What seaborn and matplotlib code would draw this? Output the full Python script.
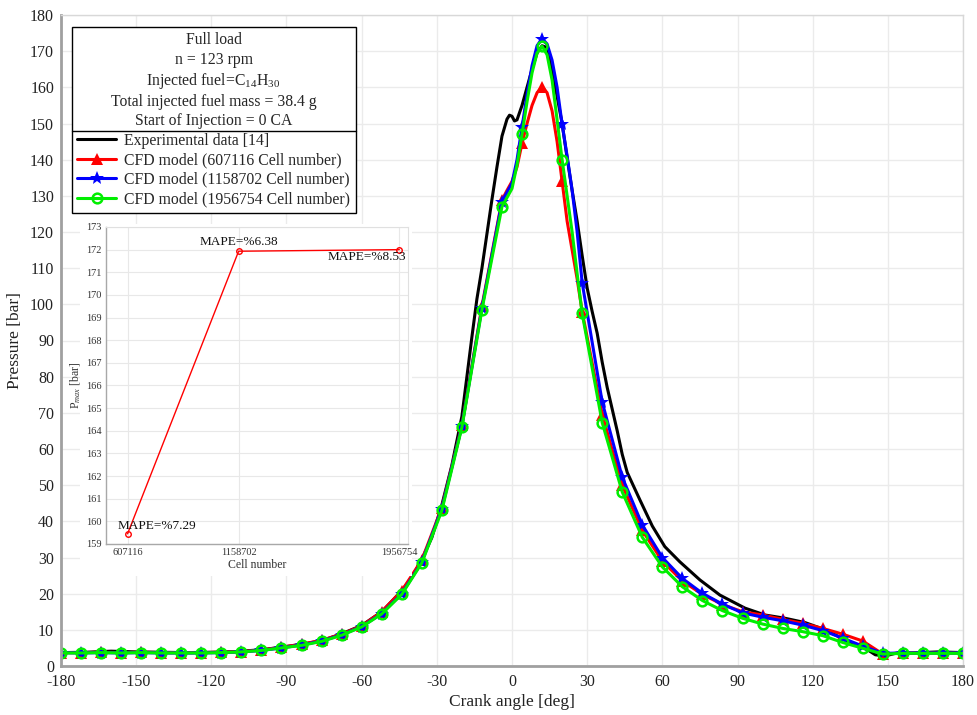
import matplotlib
matplotlib.use("Agg")
import matplotlib.pyplot as plt
import seaborn as sns
import numpy as np
from matplotlib.lines import Line2D
from matplotlib.patches import Rectangle

# ---------------- data ----------------
exp_angle = [-180,-170,-160,-150,-140,-130,-120,-110,-100,-92,-84,-76,-68,-60,-52,-44,-40,-36,-32,
             -28,-24,-20,-16,-14,-12,-10,-8,-6,-4,-2,-1,0,1,2,4,6,8,10,12,14,16,18,20,22,24,26,28,30,32,
             34,36,38,40,42,44,46,48,51,56,61,67,75,83,93,101,109,117,125,133,141,145,149,153,160,170,180]
exp_p = [3.7,3.8,4.1,3.9,3.8,3.7,3.8,4.0,4.5,5.2,6.0,7.0,8.9,11.2,15.0,20.8,24.5,29.5,35.5,
         44.5,55.5,69.0,91.0,101.5,110.0,119.5,129.0,138.0,146.5,151.2,152.3,152.0,150.7,151.0,155.0,160.0,165.0,169.5,171.5,
         171.0,165.0,157.5,150.0,140.5,131.5,123.0,113.5,104.5,98.0,
         92.0,84.0,77.0,71.0,65.0,58.5,53.5,50.5,46.0,38.7,33.0,28.8,23.8,19.6,16.0,14.1,13.2,12.0,10.0,7.2,
         4.9,3.1,2.8,3.5,3.6,3.9,3.7]

cfd_angle = [-180,-172,-164,-156,-148,-140,-132,-124,-116,-108,-100,-92,-84,-76,-68,-60,-52,-44,-36,-28,-20,-12,
             -4,-2,0,2,4,6,8,10,12,14,16,18,20,22,24,26,28,
             36,44,52,60,68,76,84,92,100,108,116,124,132,140,148,156,164,172,180]
cfd_607116 = [3.7,3.7,3.8,3.7,3.8,3.7,3.7,3.7,3.8,4.0,4.4,5.2,6.0,7.1,8.8,11.1,15.0,20.8,29.3,43.8,66.5,99.5,
              128.8,131.5,134.0,138.0,144.5,150.0,155.0,158.5,160.2,158.5,153.5,145.0,134.0,123.0,115.0,107.0,98.0,
              69.5,50.0,37.5,29.0,23.5,19.8,17.0,15.0,14.1,12.9,11.8,10.4,8.8,6.9,3.3,3.6,3.6,3.6,3.6]
cfd_1158702 = [3.7,3.6,3.7,3.6,3.7,3.6,3.6,3.6,3.7,3.9,4.3,5.0,5.8,6.9,8.6,10.9,14.5,20.0,28.7,43.5,66.3,99.0,
               128.4,131.0,133.5,140.0,149.0,158.0,166.0,171.5,173.5,172.0,167.5,160.0,149.8,141.0,131.5,120.0,106.0,
               73.0,52.2,39.0,30.0,24.2,20.1,17.1,14.7,13.5,12.5,11.3,9.8,7.7,5.5,3.5,3.6,3.6,3.6,3.6]
cfd_1956754 = [3.6,3.6,3.7,3.6,3.7,3.6,3.6,3.6,3.7,3.9,4.3,5.0,5.7,6.8,8.5,10.8,14.4,19.8,28.5,43.0,66.0,98.5,
               127.0,129.5,132.0,138.5,147.0,156.0,164.0,169.5,171.4,169.0,162.0,151.0,140.0,130.0,120.0,108.5,97.5,
               67.3,48.1,35.6,27.4,21.9,18.1,15.3,13.2,11.6,10.4,9.5,8.4,6.5,4.9,3.3,3.5,3.5,3.5,3.5]

series_labels = ["Experimental data [14]",
                 "CFD model (607116 Cell number)",
                 "CFD model (1158702 Cell number)",
                 "CFD model (1956754 Cell number)"]

info_lines = ["Full load",
              "n = 123 rpm",
              "Injected fuel=C$_{14}$H$_{30}$",
              "Total injected fuel mass = 38.4 g",
              "Start of Injection = 0 CA"]

inset_cells = [607116, 1158702, 1956754]
inset_pmax = [159.45, 171.93, 172.0]
inset_mape = ["MAPE=%7.29", "MAPE=%6.38", "MAPE=%8.53"]

x_ticks = list(range(-180, 181, 30))
y_ticks = list(range(0, 181, 10))
inset_yticks = list(range(159, 174))

# ---------------- style ----------------
sns.set_theme(style="whitegrid")
plt.rcParams["font.family"] = ["Liberation Serif", "DejaVu Serif"]
plt.rcParams["mathtext.fontset"] = "custom"
plt.rcParams["mathtext.rm"] = "Liberation Serif"
plt.rcParams["mathtext.it"] = "Liberation Serif:italic"
plt.rcParams["mathtext.bf"] = "Liberation Serif:bold"
plt.rcParams["axes.unicode_minus"] = False

fig = plt.figure(figsize=(9.78, 7.15), dpi=100)
fig.patch.set_facecolor("white")
ax = fig.add_axes([61/978, 1-666/715, 902/978, 651/715])
ax.set_zorder(0)
ax.set_facecolor("white")

mask = [((a + 180) % 8 == 0) for a in cfd_angle]

sns.lineplot(x=exp_angle, y=exp_p, ax=ax, color="black", lw=2.2, label=series_labels[0],
             estimator=None, sort=False)
sns.lineplot(x=cfd_angle, y=cfd_607116, ax=ax, color="red", lw=2.2, marker="^", markersize=8,
             markeredgewidth=0, markevery=mask, label=series_labels[1], estimator=None, sort=False)
sns.lineplot(x=cfd_angle, y=cfd_1158702, ax=ax, color="blue", lw=2.2, marker="*", markersize=10,
             markeredgewidth=0, markevery=mask, label=series_labels[2], estimator=None, sort=False)
sns.lineplot(x=cfd_angle, y=cfd_1956754, ax=ax, color="#00ee00", lw=2.2, marker="o", markersize=7,
             markerfacecolor="none", markeredgecolor="#00ee00", markeredgewidth=1.8, markevery=mask,
             label=series_labels[3], estimator=None, sort=False)

ax.set_xlim(-180, 180)
ax.set_ylim(0, 180)
ax.set_xticks(x_ticks)
ax.set_yticks(y_ticks)
ax.tick_params(axis="both", length=0, labelsize=11.5, colors="#222222")
ax.tick_params(axis="x", pad=6)
ax.tick_params(axis="y", pad=5)
ax.grid(True, color="#ebebeb", lw=1)
for s in ["top", "right"]:
    ax.spines[s].set_color("#d8d8d8")
    ax.spines[s].set_linewidth(1)
for s in ["left", "bottom"]:
    ax.spines[s].set_color("#a0a0a0")
    ax.spines[s].set_linewidth(2)
ax.set_xlabel("Crank angle [deg]", fontsize=12.5, labelpad=3, color="#222222")
ax.set_ylabel("Pressure [bar]", fontsize=12.5, labelpad=5, color="#222222")

# legend with info box as title (figure-level so it sits above everything)
handles, labels = ax.get_legend_handles_labels()
if ax.get_legend() is not None:
    ax.get_legend().remove()
leg = fig.legend(handles, labels, title="\n".join(info_lines), title_fontsize=11.3, fontsize=11.3,
                 loc="upper left", bbox_to_anchor=(71.5/978, 1-27/715), borderaxespad=0,
                 frameon=True, fancybox=False, framealpha=1, edgecolor="black",
                 handlelength=2.5, labelspacing=0.22, borderpad=0.35, handletextpad=0.5,
                 alignment="center")
leg.set_zorder(20)
leg.get_frame().set_linewidth(1.0)
leg.get_title().set_linespacing(1.26)
leg.get_title().set_multialignment("center")

# white patch behind inset
fig.patches.append(Rectangle((80/978, 1-576/715), (412-80)/978, (576-224)/715,
                             transform=fig.transFigure, facecolor="white", edgecolor="none",
                             zorder=1))

# ---------------- inset ----------------
axin = fig.add_axes([106/978, 1-544/715, (408-106)/978, (544-227)/715])
axin.set_zorder(2)
axin.set_facecolor("white")
sns.lineplot(x=inset_cells, y=inset_pmax, ax=axin, color="red", lw=1.0, marker="o", markersize=4,
             markerfacecolor="none", markeredgecolor="red", markeredgewidth=1.0, estimator=None, sort=False)
axin.set_xlim(500000, 2000000)
axin.set_ylim(159, 173)
axin.set_xticks(inset_cells)
axin.set_xticklabels([str(c) for c in inset_cells])
axin.set_yticks(inset_yticks)
axin.tick_params(axis="both", length=0, labelsize=7.5, pad=3, colors="#333333")
axin.grid(True, color="#e8e8e8", lw=0.8)
for s in ["top", "right"]:
    axin.spines[s].set_color("#e0e0e0")
    axin.spines[s].set_linewidth(0.8)
for s in ["left", "bottom"]:
    axin.spines[s].set_color("#a8a8a8")
    axin.spines[s].set_linewidth(1.0)
axin.set_xlabel("Cell number", fontsize=8.5, labelpad=1, color="#333333")
axin.set_ylabel("P$_{max}$ [bar]", fontsize=8.5, labelpad=2, color="#333333")

offsets = [((-7, 5.5), "left"), ((0, 6.5), "center"), ((5, -5.5), "right")]
for (cx, py, txt, (off, ha)) in zip(inset_cells, inset_pmax, inset_mape, offsets):
    axin.annotate(txt, xy=(cx, py), xytext=off, textcoords="offset points",
                  ha=ha, va="center", fontsize=9.5, color="#111111")

# divider line inside legend between info text and entries
fig.canvas.draw()
frame_bb = leg.get_frame().get_window_extent()
title_bb = leg.get_title().get_window_extent()
first_bb = leg.get_texts()[0].get_window_extent()
ydiv = (title_bb.y0 + first_bb.y1) / 2.0
inv = fig.transFigure.inverted()
(x0f, yf), (x1f, _) = inv.transform([(frame_bb.x0, ydiv), (frame_bb.x1, ydiv)])
fig.add_artist(Line2D([x0f, x1f], [yf, yf], transform=fig.transFigure, color="black", lw=1.0, zorder=30))

fig.savefig("out.png", dpi=100, facecolor="white")
